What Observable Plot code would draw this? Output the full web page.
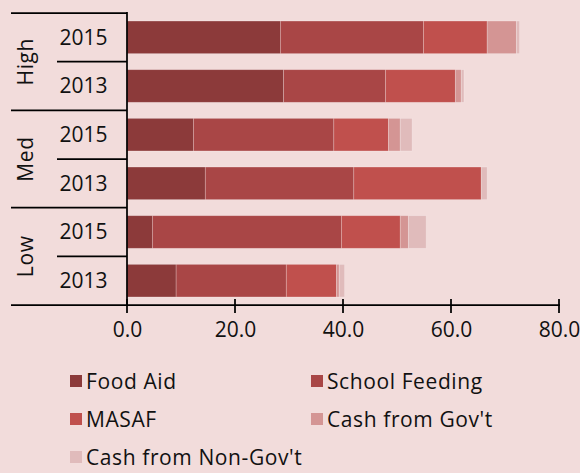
<!DOCTYPE html>
<html><head><meta charset="utf-8">
<script src="https://cdn.jsdelivr.net/npm/d3@7"></script>
<script src="https://cdn.jsdelivr.net/npm/@observablehq/plot@0.6"></script>
<style>
body{margin:0;background:#F2DCDB;font-family:"Open Sans",sans-serif;}
#wrap{position:relative;width:580px;height:473px;overflow:hidden;background:#F2DCDB}
#legend{position:absolute;left:70px;top:362px;display:grid;grid-template-columns:241px auto;}
.item{display:flex;align-items:center;height:38px;font-size:21px;line-height:24px;color:#111;white-space:nowrap;letter-spacing:0.6px}
.sw{width:12px;height:12px;margin-right:4px;flex:none}
</style></head><body><div id="wrap"></div>
<script>
// ---- data ----
const groups = ["High", "High", "Med", "Med", "Low", "Low"];
const years = ["2015", "2013", "2015", "2013", "2015", "2013"];
const foodAid = [28.4, 29.0, 12.3, 14.5, 4.7, 9.1];
const schoolFeeding = [26.5, 18.9, 26.0, 27.5, 35.0, 20.4];
const masaf = [11.8, 12.9, 10.1, 23.6, 10.9, 9.3];
const cashGov = [5.4, 1.1, 2.2, 0.0, 1.5, 0.5];
const cashNonGov = [0.6, 0.5, 2.2, 1.1, 3.3, 1.0];
const seriesNames = ["Food Aid", "School Feeding", "MASAF", "Cash from Gov't", "Cash from Non-Gov't"];
const seriesColors = ["#8C3A3A", "#A94646", "#C0504D", "#D49594", "#E0BBBB"];
const xTicks = [0, 20, 40, 60, 80];
const groupNames = ["High", "Med", "Low"];

const seriesValues = [foodAid, schoolFeeding, masaf, cashGov, cashNonGov];
const keys = groups.map((g, i) => g + "|" + years[i]);
const table = [];
keys.forEach((k, i) => {
  seriesNames.forEach((s, j) => table.push({key: k, series: s, value: seriesValues[j][i]}));
});

const FS = 21;
function structure(index, scales, values, dim) {
  const x = scales.x, y = scales.y;
  const x0 = dim.marginLeft;
  const step = y.step(), pad = (step - y.bandwidth()) / 2;
  const svg = d3.create("svg:g");
  const lines = svg.append("g").attr("stroke", "#000").attr("stroke-width", 1.75).attr("fill", "none");
  const bottom = y(keys[keys.length - 1]) - pad + step;
  keys.forEach((k, i) => {
    const top = y(k) - pad;
    const left = (i % 2 === 0) ? 11 : 57;
    lines.append("line").attr("x1", left).attr("x2", x0).attr("y1", top).attr("y2", top);
  });
  lines.append("line").attr("x1", 11).attr("x2", x(80) + 1).attr("y1", bottom).attr("y2", bottom);
  lines.append("line").attr("x1", x0).attr("x2", x0).attr("y1", y(keys[0]) - pad - 0.9).attr("y2", bottom);
  xTicks.forEach(t => {
    lines.append("line").attr("x1", x(t)).attr("x2", x(t)).attr("y1", bottom - 6).attr("y2", bottom + 8);
  });
  const txt = svg.append("g").attr("font-size", FS).attr("fill", "#111").attr("text-anchor", "middle");
  groupNames.forEach(g => {
    const i = groups.indexOf(g);
    const cy = y(keys[i]) - pad + step;
    txt.append("text").attr("transform", `translate(33,${cy}) rotate(-90)`).attr("letter-spacing", "0.6px").text(g);
  });
  return svg.node();
}

const chart = Plot.plot({
  width: 580, height: 350,
  marginLeft: 127, marginRight: 21, marginTop: 13, marginBottom: 45,
  style: {background: "transparent", fontFamily: "Open Sans", fontSize: FS + "px", color: "#111", overflow: "visible"},
  x: {domain: [0, 80]},
  y: {domain: keys, paddingInner: 0.33, paddingOuter: 0.165, round: false},
  color: {domain: seriesNames, range: seriesColors},
  marks: [
    Plot.barX(table, {x: "value", y: "key", fill: "series", stroke: "#fff", strokeOpacity: 0.3, strokeWidth: 0.75}),
    Plot.axisX({ticks: xTicks, tickSize: 0, tickPadding: 17, tickFormat: d => d.toFixed(1), label: null, fontSize: FS}),
    Plot.axisY({tickSize: 0, tickPadding: 20, tickFormat: k => k.split("|")[1], label: null, fontSize: FS}),
    structure
  ]
});
const wrap = document.getElementById("wrap");
wrap.appendChild(chart);
const legend = document.createElement("div");
legend.id = "legend";
seriesNames.forEach((s, j) => {
  const it = document.createElement("div");
  it.className = "item";
  const sw = document.createElement("span");
  sw.className = "sw"; sw.style.background = seriesColors[j];
  it.appendChild(sw);
  it.appendChild(document.createTextNode(s));
  legend.appendChild(it);
});
wrap.appendChild(legend);
</script>
</body></html>
